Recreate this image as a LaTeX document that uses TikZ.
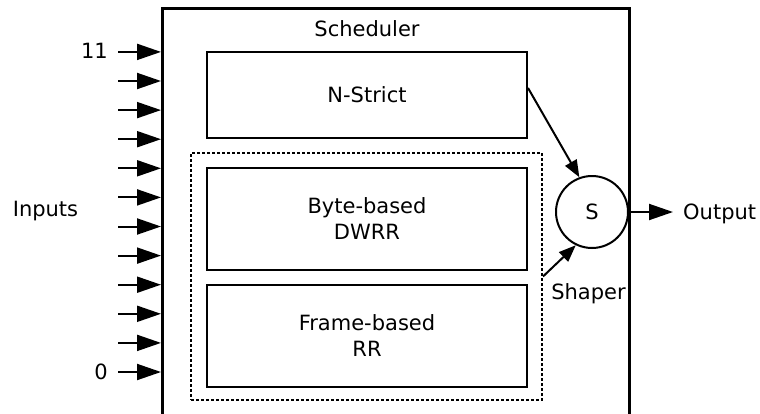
\documentclass[tikz,border=0pt]{standalone}
\usepackage{fontspec}
\setmainfont{DejaVu Sans}
\usetikzlibrary{arrows.meta,calc}
\begin{document}
\begin{tikzpicture}[x=1pt,y=-1pt,
  txt/.style={font=\fontsize{21}{26}\selectfont,inner sep=0pt},
  box/.style={draw,line width=2pt,minimum width=320pt,inner sep=0pt,align=center,font=\fontsize{21}{26}\selectfont},
  inarrow/.style={line width=2pt,-{Triangle[length=24pt,width=16pt]}},
  conn/.style={line width=2pt,-{Triangle[length=17pt,width=13pt]}},
  dotbox/.style={draw,line width=2pt,dash pattern=on 3pt off 2pt,minimum width=351pt,minimum height=247pt,inner sep=0pt}
]
\useasboundingbox (0,0) rectangle (760,413);
% outer scheduler box (open at bottom, runs off the picture)
\coordinate (schedbl) at (162,416);
\coordinate (schedtr) at (629,8);
\coordinate (schedbr) at (629,416);
\draw[line width=3pt] (schedbl) |- (schedtr) -- (schedbr);
\node[txt,anchor=base] (schedlbl) at (367,36) {Scheduler};

\node[box,minimum height=86pt] (nstrict) at (367,95) {N-Strict};
\node[dotbox] (dotted) at (366.5,276.5) {};
\node[box,minimum height=102pt] (byte) at (367,219) {Byte-based\\DWRR};
\node[box,minimum height=102pt] (frame) at (367,336) {Frame-based\\RR};

\node[draw,circle,line width=2pt,minimum size=72pt,inner sep=0pt] (S) at (592,212) {};
\node[txt,anchor=base] (Slbl) at (592,219) {S};
\node[txt,anchor=base] (shaper) at (588.5,299) {Shaper};

\draw[conn] ($(nstrict.north east)!0.42!(nstrict.south east)$) -- (S.110);
\draw[conn] (dotted.east) -- (S.244);

\coordinate (outtip) at (673,212);
\draw[inarrow] (S.east) -- (outtip);
\node[txt,anchor=base west] (outlbl) at (683,219) {Output};

% inputs
\foreach \i in {0,...,11} {
  \coordinate (in\i) at (118,{372-\i*29.1});
  \coordinate (tip\i) at (161,{372-\i*29.1});
  \draw[inarrow] (in\i) -- (tip\i);
}
\node[txt,anchor=east] (lbl11) at (108,51) {11};
\node[txt,anchor=east] (lbl0) at (108,372) {0};
\node[txt] (inputs) at (45.5,211) {Inputs};
\end{tikzpicture}
\end{document}
